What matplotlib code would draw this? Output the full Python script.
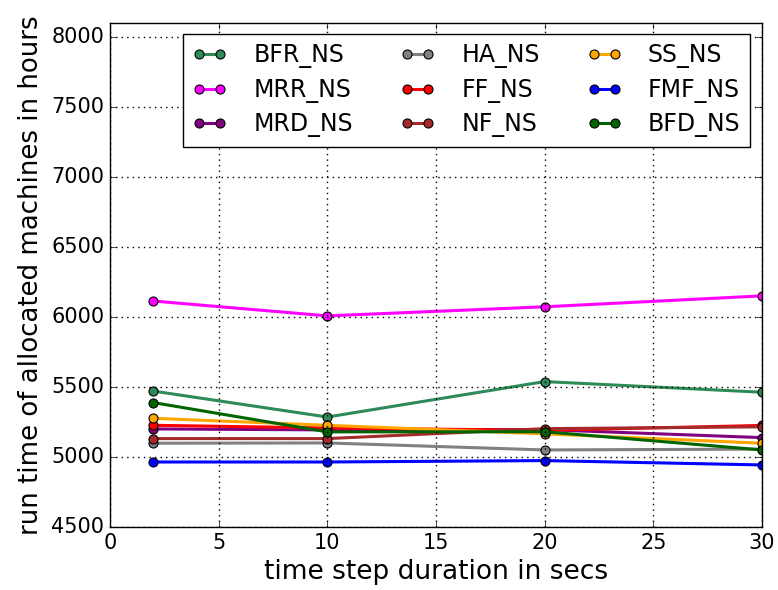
import matplotlib
matplotlib.use("Agg")
import matplotlib.pyplot as plt

plt.style.use("classic")

steps = [2, 10, 20, 30]

names = ["BFR_NS", "MRR_NS", "MRD_NS", "HA_NS", "FF_NS", "NF_NS", "SS_NS", "FMF_NS", "BFD_NS"]
colors = ["#2e8b57", "magenta", "purple", "gray", "red", "brown", "orange", "blue", "darkgreen"]

bfr = [5470, 5285, 5538, 5462]
mrr = [6113, 6007, 6072, 6150]
mrd = [5200, 5193, 5195, 5138]
ha = [5098, 5100, 5050, 5056]
ff = [5226, 5207, 5190, 5225]
nf = [5131, 5131, 5202, 5215]
ss = [5276, 5226, 5165, 5098]
fmf = [4964, 4964, 4974, 4943]
bfd = [5388, 5179, 5180, 5050]

series = [bfr, mrr, mrd, ha, ff, nf, ss, fmf, bfd]

fig = plt.figure(figsize=(7.78, 5.9), dpi=100, facecolor="white")
ax = fig.add_axes([0.1414, 0.1068, 0.8380, 0.8547])

for name, color, vals in zip(names, colors, series):
    ax.plot(steps, vals, color=color, marker="o", lw=2.2, ms=6.5,
            markeredgecolor="black", markeredgewidth=0.8, label=name)

ax.set_xlim(0, 30)
ax.set_ylim(4500, 8100)
ax.set_yticks(range(4500, 8001, 500))
ax.set_xticks(range(0, 31, 5))
ax.grid(True, color="black", linestyle=":", linewidth=1)
ax.tick_params(labelsize=15)
ax.set_xlabel("time step duration in secs", fontsize=19)
ax.set_ylabel("run time of allocated machines in hours", fontsize=18.7)

ax.legend(loc="upper right", ncol=3, fontsize=17, numpoints=2,
          bbox_to_anchor=(0.9816, 0.9776), borderaxespad=0,
          handlelength=1.5, handletextpad=1.1, columnspacing=1.98,
          labelspacing=0.4)

fig.savefig("out.png", dpi=100, facecolor="white")
